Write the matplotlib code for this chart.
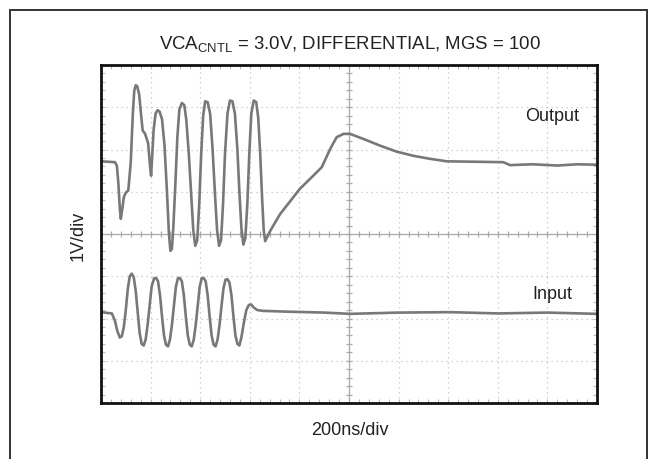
import numpy as np
import matplotlib.pyplot as plt
from matplotlib.patches import Rectangle

plt.rcParams['font.family'] = ['Liberation Sans', 'DejaVu Sans']
plt.rcParams['mathtext.fontset'] = 'custom'
plt.rcParams['mathtext.rm'] = 'Liberation Sans'

# ---------- Datos (divisiones de la pantalla) ----------
# eje x: 0..10 div (200ns/div), eje y: -4..4 div (1V/div)
t_out = [0.00, 0.28, 0.32, 0.35, 0.38, 0.40, 0.43, 0.46, 0.50, 0.55,
         0.60, 0.64, 0.67, 0.70, 0.73, 0.77, 0.81, 0.84, 0.89, 0.95,
         0.99, 1.01, 1.03, 1.06, 1.10, 1.14, 1.18, 1.23, 1.28, 1.33,
         1.37, 1.40, 1.43, 1.46, 1.50, 1.54, 1.58, 1.63, 1.68, 1.72,
         1.77, 1.82, 1.86, 1.90, 1.94, 1.98, 2.02, 2.06, 2.10, 2.15,
         2.20, 2.25, 2.30, 2.34, 2.38, 2.42, 2.46, 2.50, 2.55, 2.60,
         2.65, 2.70, 2.75, 2.79, 2.83, 2.87, 2.91, 2.95, 2.99, 3.03,
         3.08, 3.13, 3.17, 3.21, 3.25, 3.28, 3.31, 3.40, 3.50, 3.61,
         3.81, 4.01, 4.28, 4.45, 4.62, 4.75, 4.89, 5.02, 5.29, 5.63,
         5.96, 6.30, 6.63, 6.97, 7.57, 8.11, 8.25, 8.70, 9.20, 9.60, 10.0]
v_out = [1.72, 1.70, 1.62, 1.20, 0.60, 0.36, 0.60, 0.87, 0.98, 1.03,
         1.70, 2.80, 3.39, 3.52, 3.50, 3.30, 2.80, 2.45, 2.37, 2.15,
         1.60, 1.38, 1.80, 2.45, 2.85, 2.93, 2.90, 2.72, 2.10, 1.00,
         0.00, -0.40, -0.35, 0.20, 1.20, 2.30, 2.95, 3.10, 3.05, 2.70,
         1.90, 0.90, 0.10, -0.28, -0.15, 0.70, 1.90, 2.80, 3.14, 3.12,
         2.85, 2.00, 0.90, 0.10, -0.28, -0.15, 0.70, 1.90, 2.85, 3.16,
         3.14, 2.85, 2.00, 1.00, 0.15, -0.25, -0.10, 0.70, 1.90, 2.85,
         3.16, 3.12, 2.75, 1.89, 0.80, 0.10, -0.17, 0.05, 0.25, 0.47,
         0.77, 1.07, 1.38, 1.58, 2.01, 2.29, 2.37, 2.37, 2.25, 2.09,
         1.95, 1.85, 1.78, 1.72, 1.71, 1.70, 1.63, 1.65, 1.62, 1.65, 1.64]

t_in = [0.00, 0.22, 0.28, 0.33, 0.38, 0.42, 0.46, 0.50, 0.54, 0.58,
        0.62, 0.66, 0.70, 0.74, 0.78, 0.82, 0.86, 0.90, 0.94, 0.98,
        1.02, 1.07, 1.11, 1.15, 1.19, 1.23, 1.27, 1.31, 1.35, 1.39,
        1.43, 1.47, 1.51, 1.55, 1.59, 1.63, 1.67, 1.71, 1.75, 1.79,
        1.83, 1.87, 1.91, 1.95, 1.99, 2.03, 2.07, 2.11, 2.15, 2.19,
        2.23, 2.27, 2.31, 2.35, 2.39, 2.43, 2.47, 2.51, 2.55, 2.59,
        2.63, 2.67, 2.71, 2.75, 2.79, 2.83, 2.88, 2.93, 2.98, 3.03,
        3.08, 3.15, 3.27, 3.81, 4.50, 5.02, 6.00, 7.04, 8.00, 9.00, 10.0]
v_in = [-1.85, -1.88, -2.05, -2.30, -2.45, -2.42, -2.20, -1.80, -1.30, -1.00,
        -0.94, -1.02, -1.35, -1.85, -2.35, -2.60, -2.64, -2.50, -2.15, -1.70,
        -1.25, -1.05, -1.04, -1.12, -1.45, -1.95, -2.40, -2.62, -2.66, -2.50,
        -2.15, -1.70, -1.25, -1.05, -1.04, -1.12, -1.45, -1.95, -2.40, -2.62,
        -2.66, -2.50, -2.15, -1.70, -1.25, -1.05, -1.04, -1.12, -1.45, -1.95,
        -2.40, -2.62, -2.66, -2.50, -2.15, -1.70, -1.28, -1.08, -1.07, -1.15,
        -1.45, -1.95, -2.40, -2.60, -2.64, -2.45, -2.10, -1.80, -1.68, -1.67,
        -1.74, -1.80, -1.82, -1.84, -1.86, -1.89, -1.86, -1.85, -1.88, -1.86, -1.89]

titulo = r'VCA$_{\mathregular{CNTL}}$ = 3.0V, DIFFERENTIAL, MGS = 100'
etiqueta_x = '200ns/div'
etiqueta_y = '1V/div'

# ---------- Figura ----------
W, H = 649, 460
fig = plt.figure(figsize=(W / 100, H / 100), dpi=100)

# marco exterior
fig.patches.append(Rectangle((10 / W, -0.05), 637 / W, 1.05 - 10.5 / H,
                             transform=fig.transFigure, fill=False,
                             edgecolor='#333333', linewidth=1.4))

ax = fig.add_axes([101 / W, 1 - 404 / H, 496 / W, 338 / H])
ax.set_xlim(0, 10)
ax.set_ylim(-4, 4)

# reticula del osciloscopio
for gx in range(1, 10):
    if gx != 5:
        ax.axvline(gx, color='#c4c4c4', lw=0.9, ls=(0, (1, 3)))
for gy in range(-3, 4):
    if gy != 0:
        ax.axhline(gy, color='#c4c4c4', lw=0.9, ls=(0, (1, 3)))
ax.axhline(0, color='#a8a8a8', lw=0.9)
ax.axvline(5, color='#a8a8a8', lw=0.9)
marcas_x = np.arange(0, 10.01, 0.2)
marcas_y = np.arange(-4, 4.01, 0.2)
ax.plot(marcas_x, np.zeros_like(marcas_x), ls='none', marker='|', ms=4,
        mew=0.9, color='#a8a8a8')
ax.plot(np.full_like(marcas_y, 5), marcas_y, ls='none', marker='_', ms=4,
        mew=0.9, color='#a8a8a8')

ax.set_xticks([])
ax.set_yticks([])
ax.set_xticks(marcas_x, minor=True)
ax.set_yticks(marcas_y, minor=True)
ax.tick_params(which='minor', direction='in', length=3, width=0.8,
               color='#bdbdbd', top=True, right=True, labelbottom=False,
               labelleft=False)
for s in ax.spines.values():
    s.set_linewidth(2.0)
    s.set_color('#111111')

# trazas
ax.plot(t_out, v_out, color='#787878', lw=1.9, solid_joinstyle='round')
ax.plot(t_in, v_in, color='#787878', lw=1.9, solid_joinstyle='round')

ax.text(9.1, 2.8, 'Output', ha='center', va='center', fontsize=13,
        color='#222222')
ax.text(9.1, -1.4, 'Input', ha='center', va='center', fontsize=13,
        color='#222222')

fig.text(350 / W, 1 - 45 / H, titulo, ha='center', va='center', fontsize=13.4,
         color='#222222')
fig.text(350 / W, 1 - 431 / H, etiqueta_x, ha='center', va='center',
         fontsize=13, color='#222222')
fig.text(78 / W, 1 - 236 / H, etiqueta_y, ha='center', va='center',
         fontsize=13, color='#222222', rotation=90)

fig.savefig('out.png', dpi=100)
